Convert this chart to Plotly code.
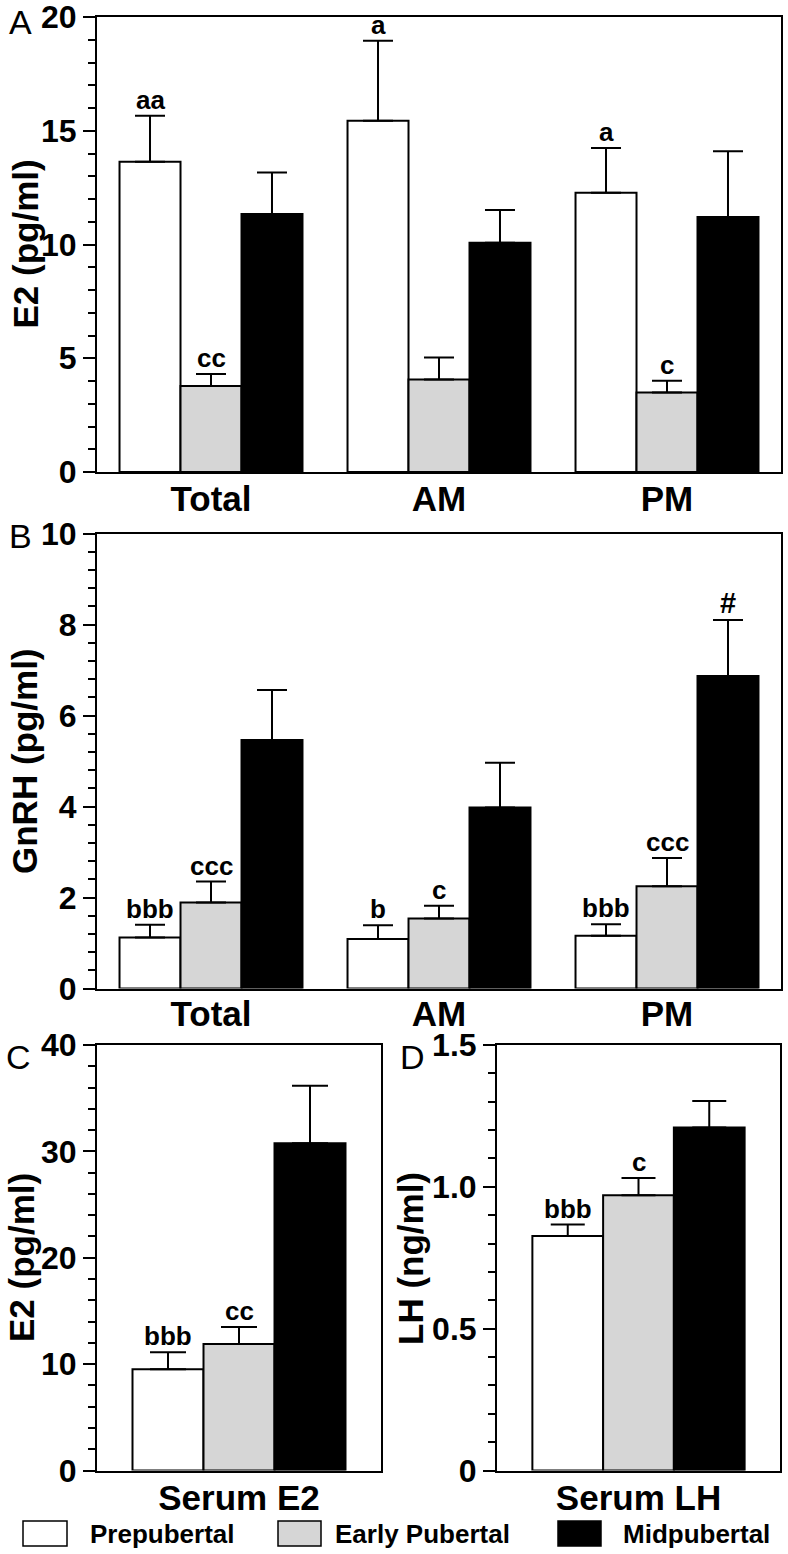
import plotly.graph_objects as go

W, H = 788, 1554

# ---------------- data ----------------
groups = ["Prepubertal", "Early Pubertal", "Midpubertal"]
group_colors = ["#ffffff", "#d6d6d6", "#000000"]

cats_ab = ["Total", "AM", "PM"]

a_pre = [13.64, 15.44, 12.28]
a_pre_err = [2.02, 3.52, 1.96]
a_early = [3.78, 4.07, 3.49]
a_early_err = [0.53, 0.96, 0.52]
a_mid = [11.34, 10.08, 11.21]
a_mid_err = [1.83, 1.44, 2.89]
a_pre_lbl = ["aa", "a", "a"]
a_early_lbl = ["cc", "", "c"]
a_mid_lbl = ["", "", ""]

b_pre = [1.12, 1.09, 1.16]
b_pre_err = [0.28, 0.30, 0.25]
b_early = [1.89, 1.54, 2.25]
b_early_err = [0.46, 0.28, 0.62]
b_mid = [5.46, 3.98, 6.87]
b_mid_err = [1.10, 0.98, 1.23]
b_pre_lbl = ["bbb", "b", "bbb"]
b_early_lbl = ["ccc", "c", "ccc"]
b_mid_lbl = ["", "", "#"]

cats_c = ["Serum E2"]
c_pre, c_pre_err = [9.51], [1.60]
c_early, c_early_err = [11.89], [1.60]
c_mid, c_mid_err = [30.76], [5.40]
c_pre_lbl, c_early_lbl, c_mid_lbl = ["bbb"], ["cc"], [""]

cats_d = ["Serum LH"]
d_pre, d_pre_err = [0.827], [0.040]
d_early, d_early_err = [0.970], [0.061]
d_mid, d_mid_err = [1.209], [0.094]
d_pre_lbl, d_early_lbl, d_mid_lbl = ["bbb"], ["c"], [""]

# ---------------- helpers ----------------
FONT = "Liberation Sans, Arial, sans-serif"


def px(x):
    return x / W


def py(y):
    return 1 - y / H


fig = go.Figure()
annotations = []
shapes = []


def add_panel(ax, cats, series, errs, labels, bar_w, cap_w):
    xa = "x" if ax == 1 else f"x{ax}"
    ya = "y" if ax == 1 else f"y{ax}"
    n = len(series)
    for i, (vals, err, lbl) in enumerate(zip(series, errs, labels)):
        off = -n * bar_w / 2 + i * bar_w
        fig.add_trace(go.Bar(
            x=cats, y=vals, width=bar_w, offset=off,
            marker=dict(color=group_colors[i], line=dict(color="black", width=2)),
            error_y=dict(type="data", array=err, arrayminus=[0] * len(err), symmetric=False,
                         color="black", thickness=2, width=cap_w),
            xaxis=xa, yaxis=ya, showlegend=False, name=groups[i],
        ))
        for k, t in enumerate(lbl):
            if t:
                annotations.append(dict(
                    x=k + off + bar_w / 2, y=vals[k] + err[k], xref=xa, yref=ya,
                    text=t, showarrow=False, yanchor="bottom", xanchor="center", yshift=-1,
                    font=dict(family=FONT, size=29 if t == "#" else 26, color="black",
                              weight="bold"),
                ))


add_panel(1, cats_ab, [a_pre, a_early, a_mid], [a_pre_err, a_early_err, a_mid_err],
          [a_pre_lbl, a_early_lbl, a_mid_lbl], 0.2675, 15)
add_panel(2, cats_ab, [b_pre, b_early, b_mid], [b_pre_err, b_early_err, b_mid_err],
          [b_pre_lbl, b_early_lbl, b_mid_lbl], 0.2675, 15)
add_panel(3, cats_c, [c_pre, c_early, c_mid], [c_pre_err, c_early_err, c_mid_err],
          [c_pre_lbl, c_early_lbl, c_mid_lbl], 0.25, 18)
add_panel(4, cats_d, [d_pre, d_early, d_mid], [d_pre_err, d_early_err, d_mid_err],
          [d_pre_lbl, d_early_lbl, d_mid_lbl], 0.25, 17)

tickfont = dict(family=FONT, size=32, color="black", weight="bold")
catfont = dict(family=FONT, size=35, color="black", weight="bold")


def yaxis(domain_px, anchor, rng, dtick, minor, tickvals=None, ticktext=None):
    d = dict(
        domain=[py(domain_px[1]), py(domain_px[0])], anchor=anchor, range=rng,
        showline=True, linewidth=2, linecolor="black", mirror=True,
        ticks="outside", ticklen=12, tickwidth=2, tickcolor="black",
        dtick=dtick, tick0=0, showgrid=False, zeroline=False, tickfont=tickfont,
        minor=dict(dtick=minor, tick0=0, ticks="outside", ticklen=7, tickwidth=2,
                   tickcolor="black", showgrid=False),
        fixedrange=True, automargin=False, ticklabeloverflow="allow",
    )
    if tickvals is not None:
        d.update(tickmode="array", tickvals=tickvals, ticktext=ticktext)
    return d


def xaxis(domain_px, anchor, ncat, standoff=-5):
    return dict(
        domain=[px(domain_px[0]), px(domain_px[1])], anchor=anchor, type="category",
        range=[-0.5, ncat - 0.5], showline=True, linewidth=2, linecolor="black",
        mirror=True, ticks="", showgrid=False, zeroline=False, tickfont=catfont,
        fixedrange=True, automargin=False, ticklabeloverflow="allow",
        ticklabelstandoff=standoff,
    )


fig.update_layout(
    xaxis=xaxis((97, 781), "y", 3),
    yaxis=yaxis((17, 472), "x", [0, 20], 5, 1),
    xaxis2=xaxis((97, 781), "y2", 3, -7),
    yaxis2=yaxis((533.5, 988.5), "x2", [0, 10], 2, 0.4),
    xaxis3=xaxis((97, 381), "y3", 1),
    yaxis3=yaxis((1045, 1470.5), "x3", [0, 40], 10, 2),
    xaxis4=xaxis((497, 780), "y4", 1),
    yaxis4=yaxis((1045, 1470.5), "x4", [0, 1.5], 0.5, 0.1,
                 tickvals=[0, 0.5, 1.0, 1.5], ticktext=["0", "0.5", "1.0", "1.5"]),
)

# panel letters
for letter, x0, yc in [("A", 7, 22), ("B", 7, 536), ("C", 4, 1057), ("D", 398, 1057)]:
    annotations.append(dict(x=px(x0), y=py(yc), xref="paper", yref="paper", text=letter,
                            showarrow=False, xanchor="left", yanchor="middle",
                            font=dict(family=FONT, size=34, color="black")))

# y-axis titles
for txt, xc, yc in [("E2 (pg/ml)", 25, 244.5), ("GnRH (pg/ml)", 25, 761),
                    ("E2 (pg/ml)", 21, 1258), ("LH (ng/ml)", 410, 1258)]:
    annotations.append(dict(x=px(xc), y=py(yc), xref="paper", yref="paper", text=txt,
                            showarrow=False, textangle=-90, xanchor="center", yanchor="middle",
                            font=dict(family=FONT, size=35, color="black", weight="bold")))

# legend
for i, (bx0, bx1, tx) in enumerate([(23, 67, 88), (278, 321, 333), (558, 601, 621)]):
    shapes.append(dict(type="rect", xref="paper", yref="paper",
                       x0=px(bx0), x1=px(bx1), y0=py(1546), y1=py(1521),
                       fillcolor=group_colors[i], line=dict(color="black", width=1.5)))
    annotations.append(dict(x=px(tx), y=py(1533.5), xref="paper", yref="paper",
                            text=groups[i], showarrow=False, xanchor="left", yanchor="middle",
                            font=dict(family=FONT, size=26, color="black", weight="bold")))

fig.update_layout(
    width=W, height=H, margin=dict(l=0, r=0, t=0, b=0, autoexpand=False),
    paper_bgcolor="white", plot_bgcolor="white",
    showlegend=False, barmode="group",
    annotations=annotations, shapes=shapes,
)

fig.write_html(
    "out.html",
    config={"displayModeBar": False, "staticPlot": True},
    post_script="document.body.style.margin='0';document.body.style.overflow='hidden';",
)
